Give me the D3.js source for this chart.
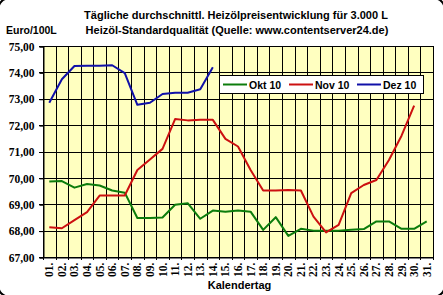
<!DOCTYPE html>
<html><head><meta charset="utf-8">
<script src="https://cdn.jsdelivr.net/npm/d3@7"></script>
<style>
html,body{margin:0;padding:0;background:#fff;}
svg{display:block;}
</style></head>
<body>
<svg id="c" width="443" height="295"></svg>
<script>
const days = d3.range(1, 32).map(d => (d < 10 ? "0" + d : "" + d) + ".");
const yTicks = [67, 68, 69, 70, 71, 72, 73, 74, 75];
const okt = [69.86,69.88,69.63,69.77,69.71,69.52,69.44,68.48,68.48,68.50,68.98,69.04,68.45,68.76,68.72,68.76,68.72,68.03,68.51,67.80,68.07,68.00,68.00,68.00,68.03,68.06,68.35,68.35,68.07,68.07,68.35];
const nov = [68.13,68.09,68.40,68.70,69.33,69.33,69.33,70.30,70.70,71.10,72.23,72.18,72.20,72.20,71.48,71.19,70.30,69.52,69.52,69.54,69.52,68.53,67.93,68.22,69.42,69.73,69.92,70.68,71.60,72.74];
const dez = [72.85,73.74,74.24,74.25,74.25,74.27,73.97,72.77,72.85,73.18,73.23,73.23,73.36,74.19];
const seriesNames = ["Okt 10", "Nov 10", "Dez 10"];
const seriesColors = ["#0c7c0c", "#cc1010", "#1010a8"];
const seriesData = [okt, nov, dez];

const svg = d3.select("#c");
const L = 43, R = 433, T = 46, B = 257;
const x = d3.scaleBand().domain(days).range([L, R]).padding(0);
const y = d3.scaleLinear().domain([67, 75]).range([B, T]);
const numFont = "'Liberation Serif', 'Times New Roman', serif";
const sansFont = "'Liberation Sans', Arial, sans-serif";

// outer rounded border
svg.append("rect").attr("x", -1.5).attr("y", -1.5).attr("width", 446).attr("height", 298)
  .attr("rx", 10).attr("fill", "none").attr("stroke", "#000").attr("stroke-width", 2);

// plot background
svg.append("rect").attr("x", L).attr("y", T).attr("width", R - L).attr("height", B - T).attr("fill", "#ffffc0");

// horizontal grid
svg.append("g").selectAll("line").data(yTicks).join("line")
  .attr("x1", L - 4).attr("x2", R).attr("y1", d => Math.round(y(d)) + 0.5).attr("y2", d => Math.round(y(d)) + 0.5)
  .attr("stroke", "#000").attr("stroke-width", 1);

// vertical grid + ticks at band boundaries
const bounds = days.map(d => x(d)).concat([R]);
svg.append("g").selectAll("line").data(bounds).join("line")
  .attr("x1", d => Math.round(d) + 0.5).attr("x2", d => Math.round(d) + 0.5)
  .attr("y1", T).attr("y2", B + 3)
  .attr("stroke", "#000").attr("stroke-width", 1);

// y axis via d3 axis (labels)
const yAxis = svg.append("g").attr("transform", `translate(${L + 0.5},0.5)`)
  .call(d3.axisLeft(y).tickValues(yTicks).tickSize(4).tickPadding(5).tickFormat(d => d3.format(".2f")(d).replace(".", ",")));
yAxis.select(".domain").attr("stroke", "#000");
yAxis.selectAll("text").attr("font-family", numFont).attr("font-weight", "bold").attr("font-size", "11.5px").attr("fill", "#000");

// x axis labels
const xAxis = svg.append("g").attr("transform", `translate(0,${B + 0.5})`)
  .call(d3.axisBottom(x).tickSize(0).tickPadding(0));
xAxis.select(".domain").attr("stroke", "#000");
xAxis.selectAll("text")
  .attr("font-family", numFont).attr("font-weight", "bold").attr("font-size", "11.5px").attr("fill", "#000")
  .attr("text-anchor", "end").attr("dy", null).attr("y", 0)
  .attr("transform", "translate(4,5) rotate(-90)");

// lines
const line = d3.line().x((d, i) => x(days[i]) + x.bandwidth() / 2).y(d => y(d));
seriesData.forEach((s, k) => {
  svg.append("path").datum(s).attr("d", line).attr("fill", "none")
    .attr("stroke", seriesColors[k]).attr("stroke-width", 2).attr("stroke-linejoin", "round");
});

// titles
svg.append("text").attr("x", 236).attr("y", 18.5).attr("text-anchor", "middle")
  .attr("font-family", sansFont).attr("font-weight", "bold").attr("font-size", "11px")
  .text("Tägliche durchschnittl. Heizölpreisentwicklung für 3.000 L");
svg.append("text").attr("x", 237).attr("y", 33.5).attr("text-anchor", "middle")
  .attr("font-family", sansFont).attr("font-weight", "bold").attr("font-size", "11px")
  .text("Heizöl-Standardqualität (Quelle: www.contentserver24.de)");
svg.append("text").attr("x", 6).attr("y", 33.5)
  .attr("font-family", sansFont).attr("font-weight", "bold").attr("font-size", "10.5px")
  .text("Euro/100L");
svg.append("text").attr("x", 239.5).attr("y", 289).attr("text-anchor", "middle")
  .attr("font-family", sansFont).attr("font-weight", "bold").attr("font-size", "11px")
  .text("Kalendertag");

// legend
const lg = svg.append("g");
lg.append("rect").attr("x", 219.5).attr("y", 75.5).attr("width", 204).attr("height", 18)
  .attr("fill", "#fff").attr("stroke", "#000").attr("stroke-width", 1);
const lx = [223, 289, 357];
seriesNames.forEach((n, k) => {
  lg.append("line").attr("x1", lx[k]).attr("x2", lx[k] + 24).attr("y1", 84.5).attr("y2", 84.5)
    .attr("stroke", seriesColors[k]).attr("stroke-width", 2);
  lg.append("text").attr("x", lx[k] + 26).attr("y", 88.5)
    .attr("font-family", sansFont).attr("font-weight", "bold").attr("font-size", "10.5px").text(n);
});
</script>
</body></html>
